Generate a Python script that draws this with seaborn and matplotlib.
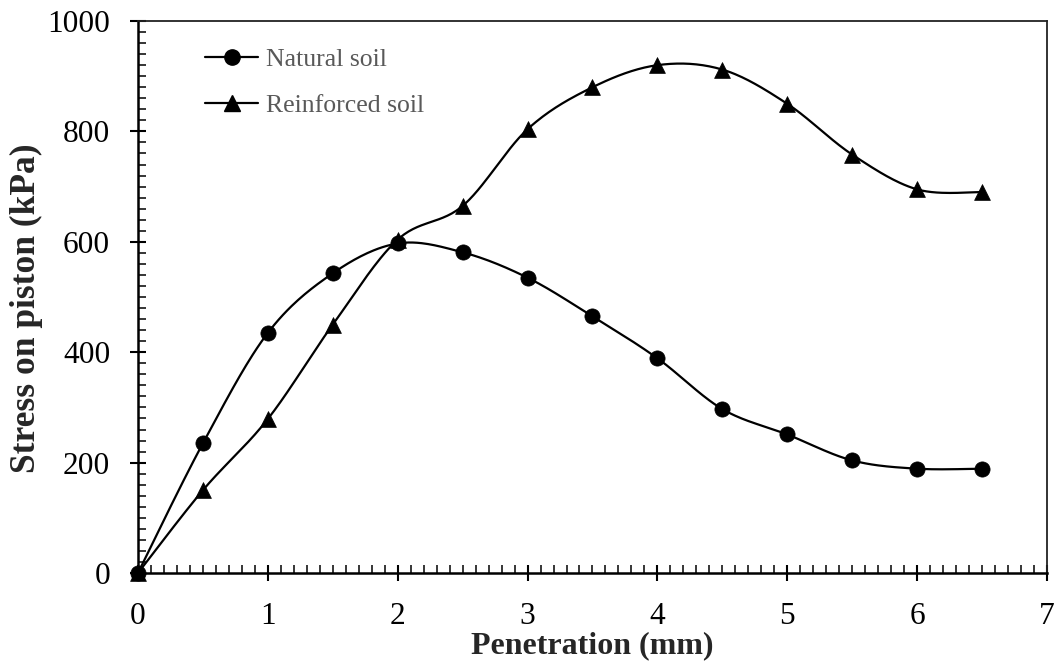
import numpy as np
import pandas as pd
import matplotlib
matplotlib.use("Agg")
import matplotlib.pyplot as plt
from matplotlib.lines import Line2D
from matplotlib.ticker import MultipleLocator
import seaborn as sns

penetration = [0, 0.5, 1, 1.5, 2, 2.5, 3, 3.5, 4, 4.5, 5, 5.5, 6, 6.5]
natural_soil = [0, 235, 435, 543, 597, 581, 535, 465, 389, 297, 251, 204, 189, 189]
reinforced_soil = [0, 150, 279, 450, 604, 665, 804, 880, 920, 912, 850, 758, 695, 690]
series_names = ["Natural soil", "Reinforced soil"]
x_ticks = [0, 1, 2, 3, 4, 5, 6, 7]
y_ticks = [0, 200, 400, 600, 800, 1000]

sns.set_style("ticks")
plt.rcParams['font.family'] = ['Liberation Serif', 'DejaVu Serif']


def smooth(xs, ys, n=30):
    # Excel-like smoothed line: Catmull-Rom segments as cubic Bezier
    P = np.column_stack([xs, ys]).astype(float)
    out = []
    m = len(P)
    for i in range(m - 1):
        p0 = P[i - 1] if i > 0 else P[i]
        p1 = P[i]
        p2 = P[i + 1]
        p3 = P[i + 2] if i + 2 < m else P[i + 1]
        c1 = p1 + (p2 - p0) / 6.0
        c2 = p2 - (p3 - p1) / 6.0
        t = np.linspace(0, 1, n, endpoint=(i == m - 2))[:, None]
        seg = ((1 - t) ** 3) * p1 + 3 * ((1 - t) ** 2) * t * c1 + 3 * (1 - t) * t ** 2 * c2 + t ** 3 * p2
        out.append(seg)
    out = np.vstack(out)
    return out[:, 0], out[:, 1]


fig = plt.figure(figsize=(10.58, 6.71), dpi=100)
ax = fig.add_axes([0.1304, 0.146, 0.8592, 0.8227])

markers = ["o", "^"]
for name, vals, mk in zip(series_names, [natural_soil, reinforced_soil], markers):
    sx, sy = smooth(penetration, vals)
    df_s = pd.DataFrame({"x": sx, "y": sy})
    sns.lineplot(data=df_s, x="x", y="y", ax=ax, color="black", linewidth=1.6,
                 sort=False, estimator=None, clip_on=False, zorder=3)
    df = pd.DataFrame({"x": penetration, "y": vals})
    sns.scatterplot(data=df, x="x", y="y", ax=ax, marker=mk, color="black",
                    s=120 if mk == "o" else 130, edgecolor="black", linewidth=0.5,
                    clip_on=False, zorder=4)

ax.set_xlim(0, 7)
ax.set_ylim(0, 1000)
ax.set_xticks(x_ticks)
ax.set_yticks(y_ticks)
ax.xaxis.set_minor_locator(MultipleLocator(0.1))
ax.yaxis.set_minor_locator(MultipleLocator(20))
ax.tick_params(axis="both", which="major", direction="inout", length=12, width=1.5,
               labelsize=22.6, colors="black")
ax.tick_params(axis="both", which="minor", direction="in", length=6, width=1.3)
ax.tick_params(axis="x", which="major", pad=15)
ax.tick_params(axis="y", which="major", pad=14)

for sp in ax.spines.values():
    sp.set_linewidth(1.8)
    sp.set_color("black")
for sp in ["top", "right"]:
    ax.spines[sp].set_color("#222222")
    ax.spines[sp].set_linewidth(1.3)

ax.set_xlabel("Penetration (mm)", fontsize=23, fontweight="bold", labelpad=0)
ax.set_ylabel("Stress on piston (kPa)", fontsize=25.5, fontweight="bold", labelpad=3, y=0.48)

handles = [
    Line2D([0], [0], color="black", linewidth=1.6, marker="o", markersize=11),
    Line2D([0], [0], color="black", linewidth=1.6, marker="^", markersize=11),
]
leg = ax.legend(handles, series_names, loc="upper left", bbox_to_anchor=(0.0627, 0.97),
                borderaxespad=0, frameon=False, fontsize=18.5, handlelength=2.06,
                handletextpad=0.31, labelspacing=0.9)
for t in leg.get_texts():
    t.set_color("#595959")

fig.savefig("out.png", dpi=100)
